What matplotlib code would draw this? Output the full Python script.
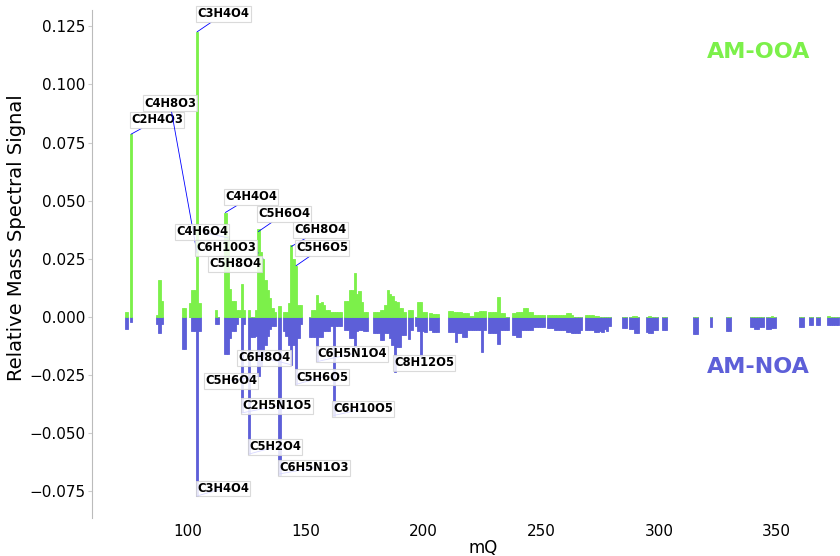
import numpy as np
import matplotlib.pyplot as plt

# m/Q of each bar, AM-OOA signal (positive) and AM-NOA signal (drawn negative)
mq = [74, 76, 87, 88, 89, 98, 99, 101, 102, 103, 104, 105,
      112, 113, 116, 117, 118, 119, 120, 121, 122, 123, 124, 126, 127, 128, 129,
      130, 131, 132, 133, 134, 135, 136, 137, 139, 141, 142, 143, 144, 145, 146, 147, 148,
      152, 153, 154, 155, 156, 157, 158, 159, 160, 161, 162, 163, 164, 165,
      167, 168, 169, 170, 171, 172, 173, 174, 175, 176,
      179, 180, 181, 182, 183, 184, 185, 186, 187, 188, 189, 190, 191, 192, 194, 195, 197,
      198, 199, 200, 201, 203, 204, 205, 206, 211, 212, 213, 214, 215, 216, 217, 218,
      219, 220, 221, 222, 223, 224, 225, 226, 228, 229, 230, 231, 232, 233, 234, 235, 236,
      238, 239, 240, 241, 242, 243, 244, 245, 246, 247, 248, 249, 250, 251,
      253, 254, 255, 256, 257, 258, 259, 260, 261, 262, 263, 264, 265, 266, 267,
      269, 270, 271, 272, 273, 274, 275, 276, 277, 278, 279,
      285, 286, 288, 289, 290, 291, 295, 296, 297, 298, 299, 302, 303,
      315, 316, 322, 329, 330, 339, 340, 341, 342, 343, 344, 346, 347, 348, 349,
      360, 361, 364, 365, 367, 368, 372, 373, 374, 375, 376]

ooa = [.002, .0786, .001, .016, .007, .004, .004, .006, .0116, .0116, .1226, .006,
       .003, 0, .0449, .035, .012, .007, .007, .003, .003, .014, .003, .003, 0, 0, .003,
       .0377, .028, .025, .016, .0116, .008, .004, .002, .0045, .002, .002, .006, .031, .025, .022, .005, .005,
       0, .003, .003, .0095, .006, .0065, .005, .003, .003, .002, .002, .002, .002, .002,
       .007, .007, .0116, .0116, .019, .010, .011, .0066, .002, .002,
       .002, .002, .002, .003, .003, .005, .0116, .010, .009, .007, .0066, .004, .004, .002, .003, .003, 0,
       .0066, .0066, .002, .0023, .0015, .0013, .0013, .0013, .0027, .0027, .0019, .0019, .0019, .0019, .0016, .0016,
       .0016, .0004, .0004, .0019, .0019, .0026, .0026, .0026, .002, .002, .002, .002, .0085, .0016, .0016, 0, 0,
       .0016, .0016, .002, .002, .002, .0037, .0037, .002, .002, .001, .001, .001, .001, .001,
       .0008, .0008, .0008, .0008, .0008, .0008, .0008, .0008, .0016, .0016, .0008, 0, 0, 0, 0,
       .001, .001, .001, .001, .0004, .0004, 0, 0, 0, 0, 0,
       0, 0, 0, .0006, .0006, 0, 0, .0006, 0, 0, 0, 0, 0,
       0, 0, 0, 0, 0, 0, 0, 0, 0, 0, 0, 0, 0, .0004, 0,
       0, 0, 0, 0, 0, 0, .0004, 0, 0, 0, 0]

noa = [-.005, -.002, -.003, -.007, -.003, -.014, -.014, 0, -.006, -.006, -.077, -.006,
       -.003, -.003, -.016, -.016, -.009, -.006, -.006, -.003, 0, -.041, -.003, -.059, -.0085, -.0085, -.008,
       -.0256, -.021, -.017, -.012, -.008, -.005, -.004, -.004, -.068, -.006, -.008, -.012, -.0206, -.012, -.029, -.009, -.003,
       -.0085, -.0085, -.0085, -.019, -.0085, -.0085, -.006, -.006, -.006, -.004, -.0425, -.004, -.004, -.004,
       -.0056, -.0056, -.009, -.009, -.0128, -.006, -.0056, -.0056, -.006, -.006,
       -.007, -.007, -.007, -.0099, -.0099, -.007, -.007, -.009, -.012, -.0235, -.0128, -.0128, -.0077, -.0077, -.0095, -.0056, -.004,
       -.006, -.017, -.006, -.0063, -.0056, -.0063, -.0063, -.0063, -.0063, -.0063, -.0063, -.0106, -.007, -.007, -.0087, -.0087,
       -.0056, -.0056, -.0056, -.0056, -.0056, -.0056, -.0153, -.0056, -.007, -.007, -.007, -.007, -.0116, -.0056, -.0056, -.0056, -.0056,
       -.0077, -.0077, -.0087, -.0087, -.0056, -.0056, -.0056, -.0056, -.0056, -.0042, -.0042, -.0042, -.0042, -.0042,
       -.0049, -.0049, -.0049, -.0056, -.0056, -.0056, -.0056, -.0056, -.0063, -.0063, -.007, -.007, -.007, -.007, -.0056,
       -.0056, -.0056, -.0056, -.0056, -.0063, -.0063, -.006, -.0063, -.005, -.006, -.004,
       -.0049, -.0049, -.0053, -.0053, -.007, -.007, -.0063, -.007, -.007, -.0056, -.0056, -.0056, -.0056,
       -.0073, -.0073, -.0042, -.0059, -.0059, -.0042, -.0042, -.005, -.005, -.0042, -.0042, -.005, -.005, -.0049, -.0049,
       -.0042, -.0042, -.0034, -.0034, -.0034, -.0034, -.0034, -.0034, -.0034, -.0034, -.0034]

# labelled ions: formula, m/Q, signal
ion_names = ['C3H4O4', 'C2H4O3', 'C4H8O3', 'C4H4O4', 'C5H6O4', 'C6H8O4', 'C5H6O5',
             'C4H6O4', 'C6H10O3', 'C5H8O4',
             'C3H4O4', 'C6H8O4', 'C5H6O4', 'C2H5N1O5', 'C5H2O4', 'C6H5N1O3',
             'C5H6O5', 'C6H10O5', 'C6H5N1O4', 'C8H12O5']
ion_mq = [104, 76, 104, 116, 130, 144, 146, 117, 130, 132,
          104, 144, 130, 123, 126, 139, 146, 162, 155, 188]
ion_val = [.1226, .0786, .0275, .0449, .0367, .0303, .022, .034, .0275, .025,
           -.077, -.0206, -.0256, -.0413, -.059, -.0675, -.029, -.0424, -.0192, -.0235]

# where the label text sits (m/Q, signal)
txt_x = [115.2, 87.0, 92.5, 126.9, 140.9, 156.2, 157.0, 106.1, 116.3, 120.1,
         115.0, 132.4, 118.4, 137.9, 137.1, 153.6, 157.0, 174.4, 169.7, 200.3]
txt_y = [.1303, .0847, .092, .0516, .0443, .0374, .0297, .0366, .0297, .0228,
         -.0738, -.0176, -.0275, -.0383, -.0559, -.0649, -.026, -.0396, -.0159, -.0198]

green = '#7cf04a'
blue = '#5d5fd8'

fig = plt.figure(figsize=(8.4, 5.56), dpi=100)
# the plot area runs a little past the right edge of the picture
ax = fig.add_axes([0.1095, 0.0683, 0.931, 0.9137])

ax.bar(mq, noa, width=1, color=blue, edgecolor=blue, linewidth=0.6)
ax.bar(mq, ooa, width=1, color=green, edgecolor=green, linewidth=0.6)

for i in range(len(ion_names)):
    ax.annotate(ion_names[i], xy=(ion_mq[i], ion_val[i]), xytext=(txt_x[i], txt_y[i]),
                ha='center', va='center', fontsize=8.3, fontweight='bold',
                bbox=dict(boxstyle='square,pad=0.12', fc='white', ec='#d4d4d4', lw=0.8, alpha=0.85),
                arrowprops=dict(arrowstyle='-', color='blue', lw=0.6, shrinkA=0, shrinkB=0),
                zorder=5)

ax.text(0.852, 0.917, 'AM-OOA', transform=ax.transAxes, color=green,
        fontsize=16, fontweight='bold', ha='center', va='center')
ax.text(0.852, 0.297, 'AM-NOA', transform=ax.transAxes, color=blue,
        fontsize=16, fontweight='bold', ha='center', va='center')

ax.set_xlim(59.4, 391.3)
ax.set_ylim(-0.0865, 0.132)
ax.set_xticks([100, 150, 200, 250, 300, 350])
ax.set_yticks([-0.075, -0.05, -0.025, 0, 0.025, 0.05, 0.075, 0.1, 0.125])
ax.set_yticklabels(['\u22120.075', '\u22120.050', '\u22120.025', '0.000', '0.025',
                    '0.050', '0.075', '0.100', '0.125'])
ax.tick_params(axis='y', labelsize=11, length=3, color='#cccccc', pad=2)
ax.tick_params(axis='x', labelsize=11, length=0, pad=4)
ax.set_xlabel('mQ', fontsize=12, labelpad=0)
ax.set_ylabel('Relative Mass Spectral Signal', fontsize=14)
ax.yaxis.set_label_coords(-0.0844, 0.551)

for s in ['top', 'right', 'bottom']:
    ax.spines[s].set_visible(False)
ax.spines['left'].set_color('#bbbbbb')

fig.savefig('out.png', dpi=100)
